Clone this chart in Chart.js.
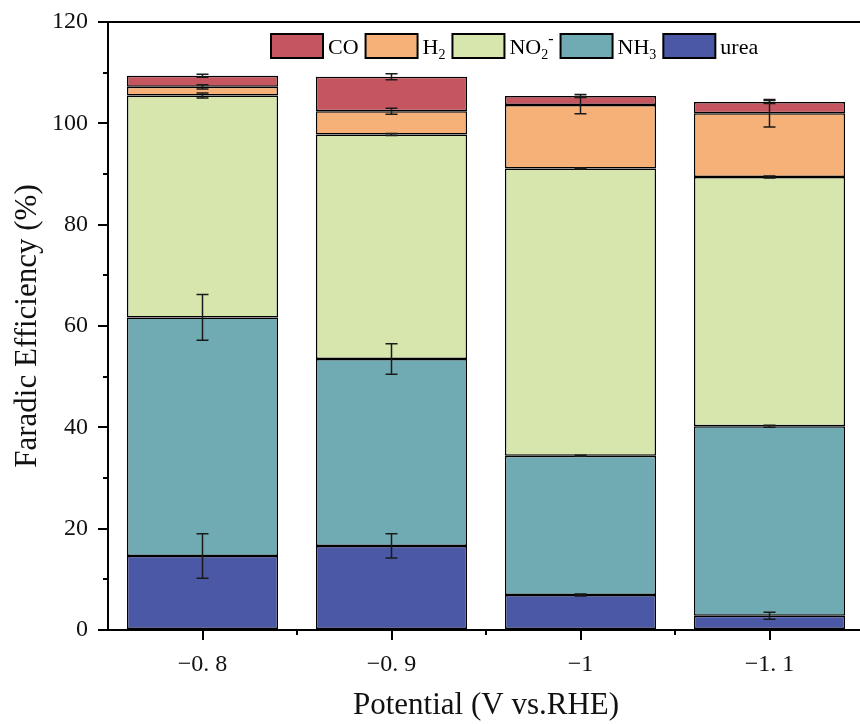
<!DOCTYPE html>
<html><head><meta charset="utf-8">
<script src="https://cdn.jsdelivr.net/npm/chart.js@4/dist/chart.umd.min.js"></script>
<style>html,body{margin:0;padding:0;overflow:hidden;background:#fff;width:860px;height:724px}canvas{display:block}</style>
</head><body><canvas id="c" width="866" height="724"></canvas>
<script>
const categories = ['−0. 8', '−0. 9', '−1', '−1. 1'];
const seriesNames = ['urea', 'NH₃', 'NO₂⁻', 'H₂', 'CO'];
const urea = [14.6, 16.6, 6.9, 2.8];
const nh3 = [47.1, 36.9, 27.5, 37.4];
const no2 = [43.8, 44.3, 56.7, 49.2];
const h2 = [1.7, 4.6, 12.5, 12.6];
const co = [2.2, 6.8, 1.8, 2.2];
const ureaErr = [4.4, 2.4, 0.2, 0.7];
const nh3Err = [4.5, 3.0, 0.1, 0.2];
const no2Err = [0.5, 0.2, 0.1, 0.2];
const h2Err = [0.4, 0.6, 1.7, 2.7];
const coErr = [0.3, 0.6, 0.3, 0.3];
const yTicks = [0, 20, 40, 60, 80, 100, 120];
const yMinorTicks = [10, 30, 50, 70, 90, 110];
const colors = ['#4a58a6', '#70abb3', '#d6e6ad', '#f5b177', '#c5565f'];

const values = [urea, nh3, no2, h2, co];
const errs = [ureaErr, nh3Err, no2Err, h2Err, coErr];
const serif = 'Liberation Serif';

function drawRich(ctx, s, x, baseline) {
  ctx.fillStyle = '#000';
  ctx.textBaseline = 'alphabetic';
  ctx.textAlign = 'left';
  for (const ch of s) {
    let t = ch, size = 22, dy = 0;
    if (ch === '₂' || ch === '₃') { t = ch === '₂' ? '2' : '3'; size = 14; dy = 5; }
    else if (ch === '⁻') { t = '-'; size = 16; dy = -10; }
    ctx.font = size + 'px "' + serif + '"';
    ctx.fillText(t, x, baseline + dy);
    x += ctx.measureText(t).width;
  }
  return x;
}

const customLegend = {
  id: 'customLegend',
  afterDraw(chart) {
    const {ctx, chartArea: a} = chart;
    const bw = 52, bh = 24, top = a.top + 12;
    let x = a.left + 163;
    ctx.save();
    for (let i = seriesNames.length - 1; i >= 0; i--) {
      ctx.fillStyle = colors[i];
      ctx.fillRect(x, top, bw, bh);
      ctx.strokeStyle = '#000';
      ctx.lineWidth = 2;
      ctx.strokeRect(x, top, bw, bh);
      x += bw + 5;
      x = drawRich(ctx, seriesNames[i], x, top + bh / 2 + 7.5);
      x += 7;
    }
    ctx.restore();
  }
};

const errorBars = {
  id: 'errorBars',
  afterDatasetsDraw(chart) {
    const ctx = chart.ctx, y = chart.scales.y;
    ctx.save();
    ctx.strokeStyle = '#1a1a1a';
    ctx.lineWidth = 1.5;
    chart.data.datasets.forEach((ds, i) => {
      const meta = chart.getDatasetMeta(i);
      meta.data.forEach((bar, j) => {
        let top = 0;
        for (let k = 0; k <= i; k++) top += chart.data.datasets[k].data[j];
        const e = ds.errors[j];
        const y1 = y.getPixelForValue(top + e), y2 = y.getPixelForValue(top - e);
        const x = bar.x, w = 6;
        ctx.beginPath();
        ctx.moveTo(x, y1); ctx.lineTo(x, y2);
        ctx.moveTo(x - w, y1); ctx.lineTo(x + w, y1);
        ctx.moveTo(x - w, y2); ctx.lineTo(x + w, y2);
        ctx.stroke();
      });
    });
    ctx.restore();
  }
};

const frame = {
  id: 'frame',
  afterDraw(chart) {
    const {ctx, chartArea: a, scales: {x, y}} = chart;
    ctx.save();
    ctx.strokeStyle = '#000';
    ctx.lineWidth = 2;
    ctx.beginPath();
    ctx.moveTo(a.left - 1, a.top); ctx.lineTo(chart.width, a.top);
    ctx.stroke();
    ctx.beginPath();
    yMinorTicks.forEach(v => {
      const p = Math.round(y.getPixelForValue(v));
      ctx.moveTo(a.left - 5, p); ctx.lineTo(a.left, p);
    });
    for (let i = 0; i < categories.length - 1; i++) {
      const p = (x.getPixelForTick(i) + x.getPixelForTick(i + 1)) / 2;
      ctx.moveTo(p, a.bottom); ctx.lineTo(p, a.bottom + 5);
    }
    ctx.stroke();
    ctx.restore();
  }
};

new Chart(document.getElementById('c'), {
  type: 'bar',
  data: {
    labels: categories,
    datasets: seriesNames.map((n, i) => ({
      label: n,
      data: values[i],
      errors: errs[i],
      backgroundColor: colors[i],
      borderColor: '#000',
      borderWidth: 1.5,
      borderSkipped: false,
      categoryPercentage: 1,
      barPercentage: 0.8
    }))
  },
  options: {
    responsive: false,
    animation: false,
    devicePixelRatio: 1,
    layout: {padding: {top: 20, right: 2, left: 0, bottom: 0}},
    plugins: {
      tooltip: {enabled: false},
      legend: {display: false}
    },
    scales: {
      x: {
        stacked: true,
        offset: true,
        grid: {display: true, drawOnChartArea: false, offset: false, color: '#000', lineWidth: 2, tickLength: 10},
        border: {color: '#000', width: 2},
        ticks: {font: {family: serif, size: 24}, color: '#111', padding: 10, maxRotation: 0},
        title: {display: true, text: 'Potential (V vs.RHE)', font: {family: serif, size: 31}, color: '#111', padding: {top: 0, bottom: 0}},
        afterFit(s) { s.height = 94; }
      },
      y: {
        stacked: true,
        min: 0, max: 120,
        afterBuildTicks(s) { s.ticks = yTicks.map(v => ({value: v})); },
        grid: {drawOnChartArea: false, color: '#000', lineWidth: 2, tickLength: 10},
        border: {color: '#000', width: 2},
        ticks: {font: {family: serif, size: 24, lineHeight: 1}, color: '#111', padding: 10},
        title: {display: true, text: 'Faradic Efficiency (%)', font: {family: serif, size: 31}, color: '#111', padding: {top: 9, bottom: 0}},
        afterFit(s) { s.width = 108; }
      }
    }
  },
  plugins: [errorBars, frame, customLegend]
});
</script>
</body></html>
